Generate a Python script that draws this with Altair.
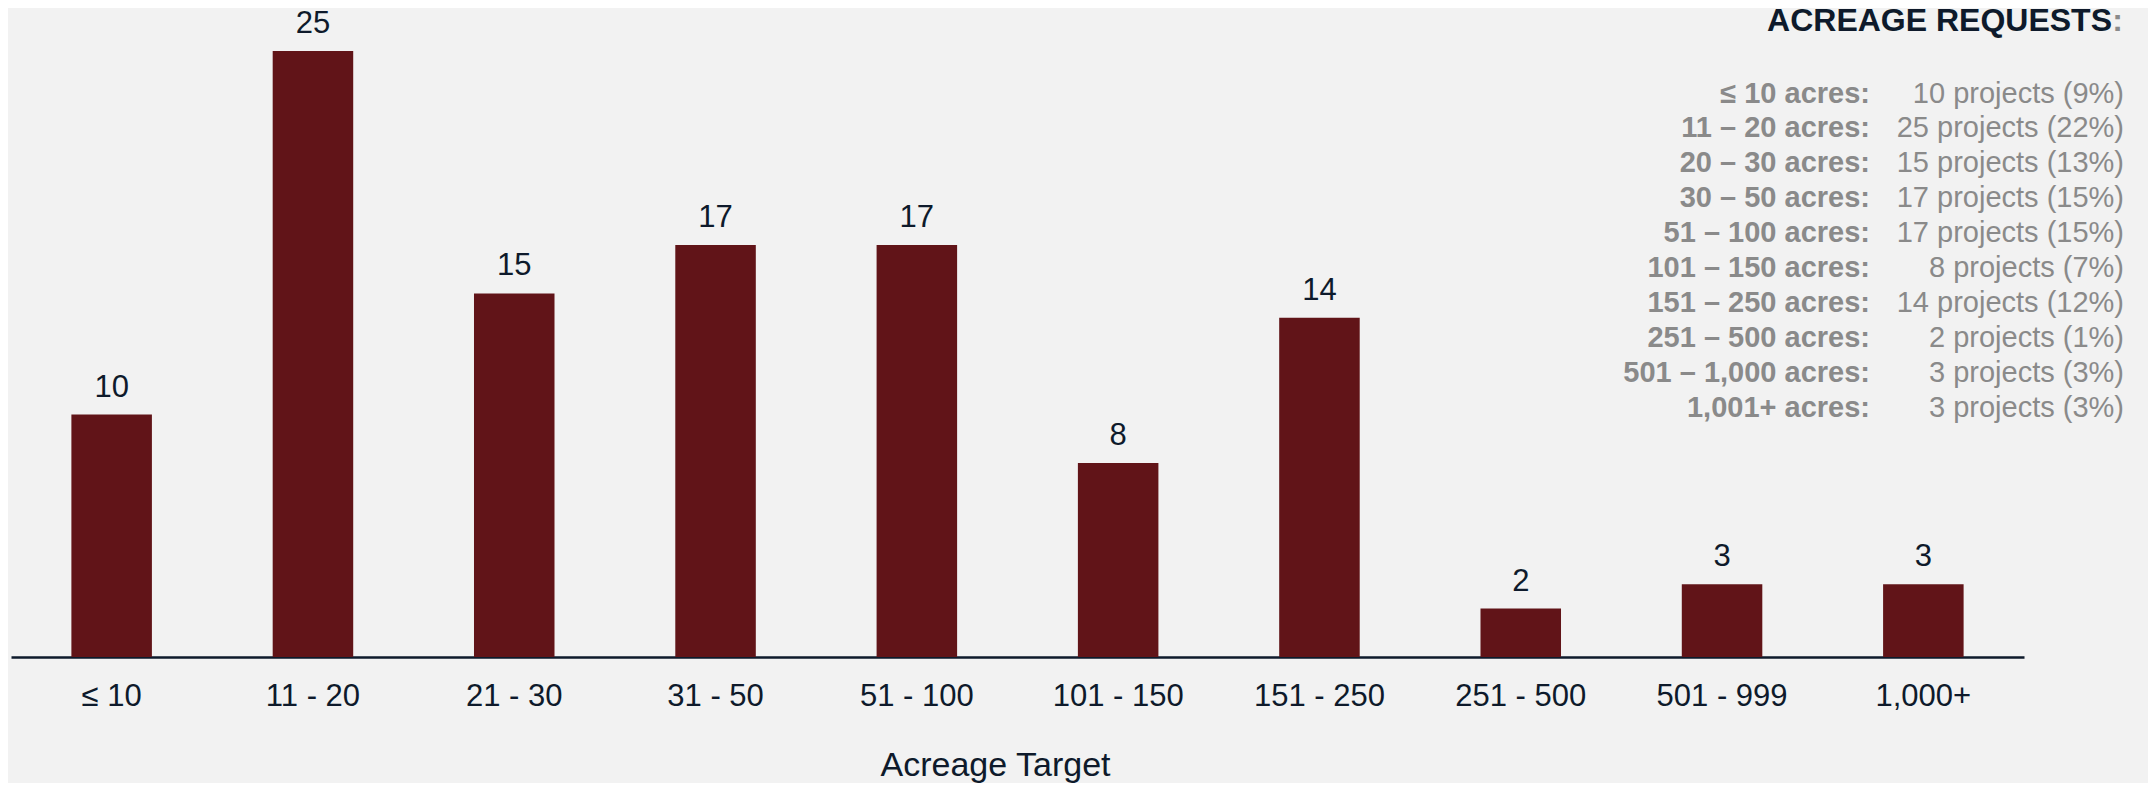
import altair as alt
import pandas as pd

categories = ["≤ 10", "11 - 20", "21 - 30", "31 - 50", "51 - 100",
              "101 - 150", "151 - 250", "251 - 500", "501 - 999", "1,000+"]
counts = [10, 25, 15, 17, 17, 8, 14, 2, 3, 3]

legend_left = ["≤ 10 acres:", "11 – 20 acres:", "20 – 30 acres:", "30 – 50 acres:",
               "51 – 100 acres:", "101 – 150 acres:", "151 – 250 acres:",
               "251 – 500 acres:", "501 – 1,000 acres:", "1,001+ acres:"]
legend_right = ["10 projects (9%)", "25 projects (22%)", "15 projects (13%)",
                "17 projects (15%)", "17 projects (15%)", "8 projects (7%)",
                "14 projects (12%)", "2 projects (1%)", "3 projects (3%)",
                "3 projects (3%)"]

FONT = "Liberation Sans"
NAVY = "#0e1a2b"
GRAY = "#8a8a8a"
BAR = "#611418"

bars_df = pd.DataFrame({"cat": categories, "n": counts})
leg_df = pd.DataFrame({"row": list(range(len(legend_left))),
                       "left": legend_left, "right": legend_right})

x = alt.X("cat:N", sort=categories,
          scale=alt.Scale(paddingInner=0.6, paddingOuter=0.3),
          axis=alt.Axis(title="Acreage Target", labelAngle=0, ticks=False, grid=False,
                        labelFont=FONT, labelFontSize=31, labelColor=NAVY,
                        labelPadding=24, domainColor=NAVY, domainWidth=2.5,
                        titleFont=FONT, titleFontSize=34, titleFontWeight="normal",
                        titleColor=NAVY, titleX=984, titleY=118,
                        titleAlign="center", titleBaseline="alphabetic"))
y = alt.Y("n:Q", scale=alt.Scale(domain=[0, 25], nice=False), axis=None)

bars = alt.Chart(bars_df).mark_bar(color=BAR).encode(x=x, y=y)
labels = alt.Chart(bars_df).mark_text(
    font=FONT, fontSize=31, color=NAVY, baseline="alphabetic", dy=-18
).encode(x=alt.X("cat:N", sort=categories), y=y, text="n:Q")

ly = alt.Y("row:Q", scale=alt.Scale(domain=[0, 9], range=[42.5, 356.6]), axis=None)
leg_left = alt.Chart(leg_df).mark_text(
    font=FONT, fontSize=29, fontWeight="bold", color=GRAY, align="right",
    baseline="middle"
).encode(x=alt.value(1859), y=ly, text="left:N")
leg_right = alt.Chart(leg_df).mark_text(
    font=FONT, fontSize=29, color=GRAY, align="right", baseline="middle"
).encode(x=alt.value(2113), y=ly, text="right:N")

title_df = pd.DataFrame({"t": ["ACREAGE REQUESTS"], "c": [":"]})
title_main = alt.Chart(title_df).mark_text(
    font=FONT, fontSize=32, fontWeight="bold", color=NAVY, align="right",
    baseline="alphabetic"
).encode(x=alt.value(2101), y=alt.value(-20.3), text="t:N")
title_colon = alt.Chart(title_df).mark_text(
    font=FONT, fontSize=32, fontWeight="bold", color=GRAY, align="right",
    baseline="alphabetic"
).encode(x=alt.value(2112), y=alt.value(-20.3), text="c:N")

chart = alt.layer(bars, labels, leg_left, leg_right, title_main, title_colon).resolve_scale(
    y="independent"
).properties(
    width=2013, height=606, background="#f2f2f2",
    autosize=alt.AutoSizeParams(type="none"),
    padding={"left": 3, "top": 43, "right": 124, "bottom": 126},
).configure_view(stroke=None)

chart.save("out.html", embed_options={"renderer": "svg", "actions": False})
